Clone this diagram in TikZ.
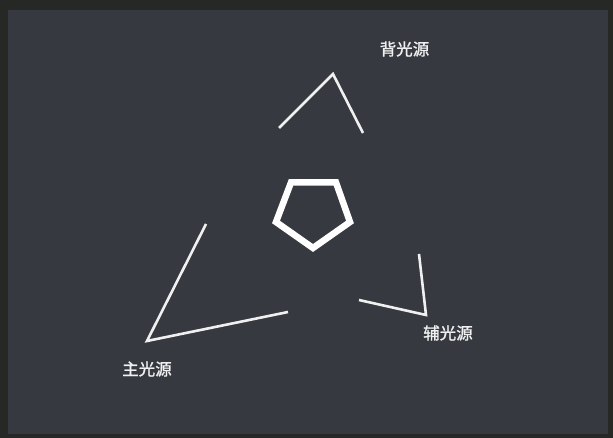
\documentclass[tikz,border=0pt]{standalone}
\usepackage{fontspec}
\newfontfamily\cjk[FakeBold=1.2]{Noto Sans CJK SC}
\definecolor{frame}{HTML}{262826}
\definecolor{panel}{HTML}{363940}
\definecolor{ink}{HTML}{F0F0F0}
\begin{document}
\begin{tikzpicture}[x=1pt,y=-1pt,
  lightline/.style={draw=ink,line width=2.6pt,line cap=butt,line join=miter},
  subject/.style={draw=white,line width=6.5pt,line join=miter},
  label/.style={text=ink,font=\cjk\fontsize{16.5}{18}\selectfont,inner sep=0pt}]
\fill[frame] (0,0) rectangle (613,438);
\fill[panel] (8,10) rectangle (608,434);
\useasboundingbox (0,0) rectangle (613,438);
% subject (pentagon)
\coordinate (p1) at (291,182.5);
\coordinate (p2) at (336,182.5);
\coordinate (p3) at (350,222);
\coordinate (p4) at (313,248);
\coordinate (p5) at (276,222);
\draw[subject] (p1) -- (p2) -- (p3) -- (p4) -- (p5) -- cycle;
% back light
\coordinate (b1) at (279,128);
\coordinate (b2) at (333,74);
\coordinate (b3) at (363,133);
\draw[lightline] (b1) -- (b2) -- (b3);
\node[label] (backlbl) at (404.5,49) {背光源};
% fill light
\coordinate (f1) at (359,300);
\coordinate (f2) at (426,315);
\coordinate (f3) at (419,254);
\draw[lightline] (f1) -- (f2) -- (f3);
\node[label] (filllbl) at (448,333) {辅光源};
% key light
\coordinate (k1) at (206,224);
\coordinate (k2) at (147,341);
\coordinate (k3) at (288,312);
\draw[lightline] (k1) -- (k2) -- (k3);
\node[label] (keylbl) at (147,369) {主光源};
\end{tikzpicture}
\end{document}
